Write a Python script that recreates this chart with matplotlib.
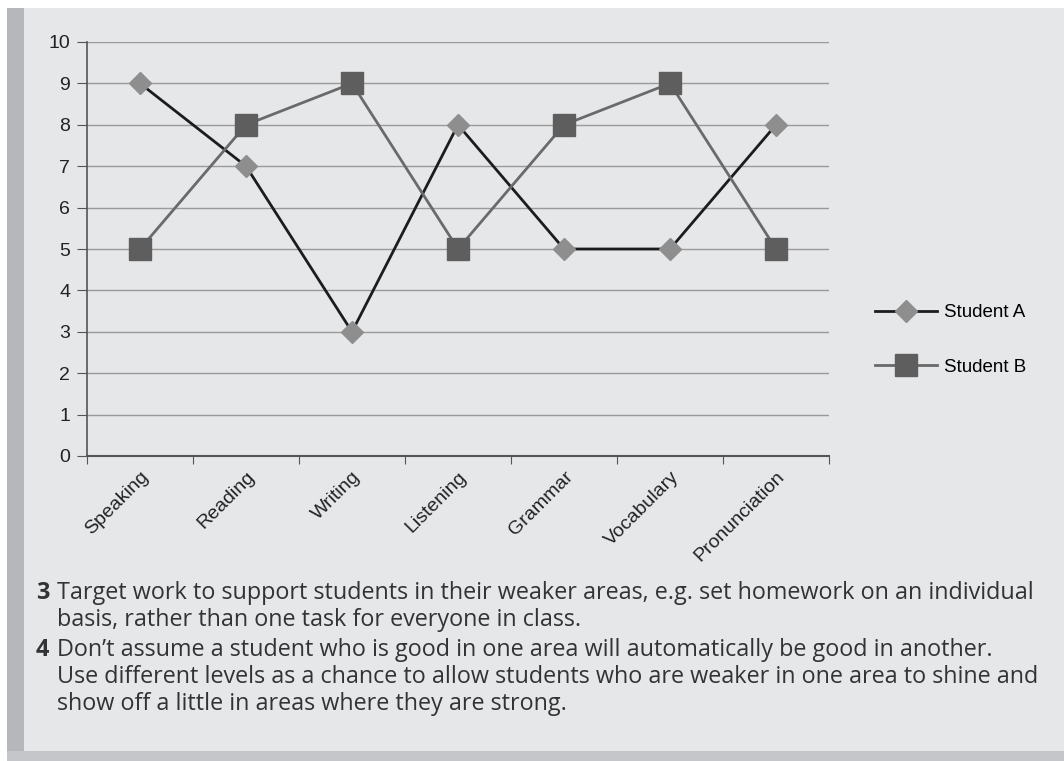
import numpy as np
import matplotlib.pyplot as plt
from matplotlib.patches import Rectangle

categories = ['Speaking', 'Reading', 'Writing', 'Listening', 'Grammar', 'Vocabulary', 'Pronunciation']
student_a = [9, 7, 3, 8, 5, 5, 8]
student_b = [5, 8, 9, 5, 8, 9, 5]

bg = '#e6e7e9'
fig = plt.figure(figsize=(10.64, 7.61), dpi=100)
fig.patch.set_facecolor('white')

# page background panel with grey strips
fig.patches.append(Rectangle((7 / 1064, 0), 1 - 7 / 1064, 1 - 8 / 761, transform=fig.transFigure,
                             facecolor=bg, edgecolor='none', zorder=-3))
fig.patches.append(Rectangle((7 / 1064, 0), 17 / 1064, 1 - 8 / 761, transform=fig.transFigure,
                             facecolor='#b5b7bb', edgecolor='none', zorder=-2))
fig.patches.append(Rectangle((7 / 1064, 0), 1, 10 / 761, transform=fig.transFigure,
                             facecolor='#c4c6ca', edgecolor='none', zorder=-2))

ax = fig.add_axes([87 / 1064, 1 - 456 / 761, (829 - 87) / 1064, (456 - 42) / 761])
ax.set_facecolor(bg)
x = np.arange(len(categories))

ax.plot(x, student_a, color='#1c1c1c', lw=2, marker='D', ms=11, mfc='#8e8e8e', mec='#8e8e8e',
        label='Student A', zorder=3)
ax.plot(x, student_b, color='#6a6a6a', lw=2, marker='s', ms=16, mfc='#5e5e5e', mec='#5e5e5e',
        label='Student B', zorder=3)

ax.set_xlim(-0.5, len(categories) - 0.5)
ax.set_ylim(0, 10)
ax.set_yticks(range(0, 11))
ax.set_xticks(np.arange(-0.5, len(categories), 1.0), minor=False)
ax.set_xticklabels([])
ax.set_xticks(x, minor=True)
ax.set_xticklabels(categories, minor=True, rotation=45, ha='right', va='top',
                   rotation_mode='anchor', fontsize=14, family='Liberation Sans', color='#222222')
ax.tick_params(axis='x', which='minor', length=0, pad=9)
ax.tick_params(axis='x', which='major', length=6, color='#555555', direction='out')
ax.tick_params(axis='y', length=7, color='#555555', labelsize=14, labelcolor='#222222', pad=5)
for lab in ax.get_yticklabels():
    lab.set_family('Liberation Sans')

ax.grid(axis='y', color='#9a9a9a', lw=1)
ax.set_axisbelow(True)
for s in ['top', 'right']:
    ax.spines[s].set_visible(False)
ax.spines['left'].set_color('#555555')
ax.spines['bottom'].set_color('#555555')
ax.spines['left'].set_linewidth(1.2)
ax.spines['bottom'].set_linewidth(1.5)

leg = fig.legend(loc='center left', bbox_to_anchor=(858 / 1064, 1 - 340 / 761), frameon=False,
                 prop={'family': 'Liberation Sans', 'size': 13.5}, labelspacing=2.0,
                 handlelength=3.3, handletextpad=0.4)

# text below chart
font = 'Open Sans'
tc = '#333333'
fs = 16.8
lines = [
    (593, '3', 'Target work to support students in their weaker areas, e.g. set homework on an individual'),
    (620, None, 'basis, rather than one task for everyone in class.'),
    (650, '4', 'Don\u2019t assume a student who is good in one area will automatically be good in another.'),
    (677, None, 'Use different levels as a chance to allow students who are weaker in one area to shine and'),
    (704, None, 'show off a little in areas where they are strong.'),
]
for y, num, txt in lines:
    if num:
        fig.text(36 / 1064, 1 - y / 761, num, family=font, fontsize=fs, weight='bold',
                 color=tc, va='center')
    fig.text(57 / 1064, 1 - y / 761, txt, family=font, fontsize=fs, color=tc, va='center')

fig.savefig('out.png', dpi=100, facecolor=fig.get_facecolor())
